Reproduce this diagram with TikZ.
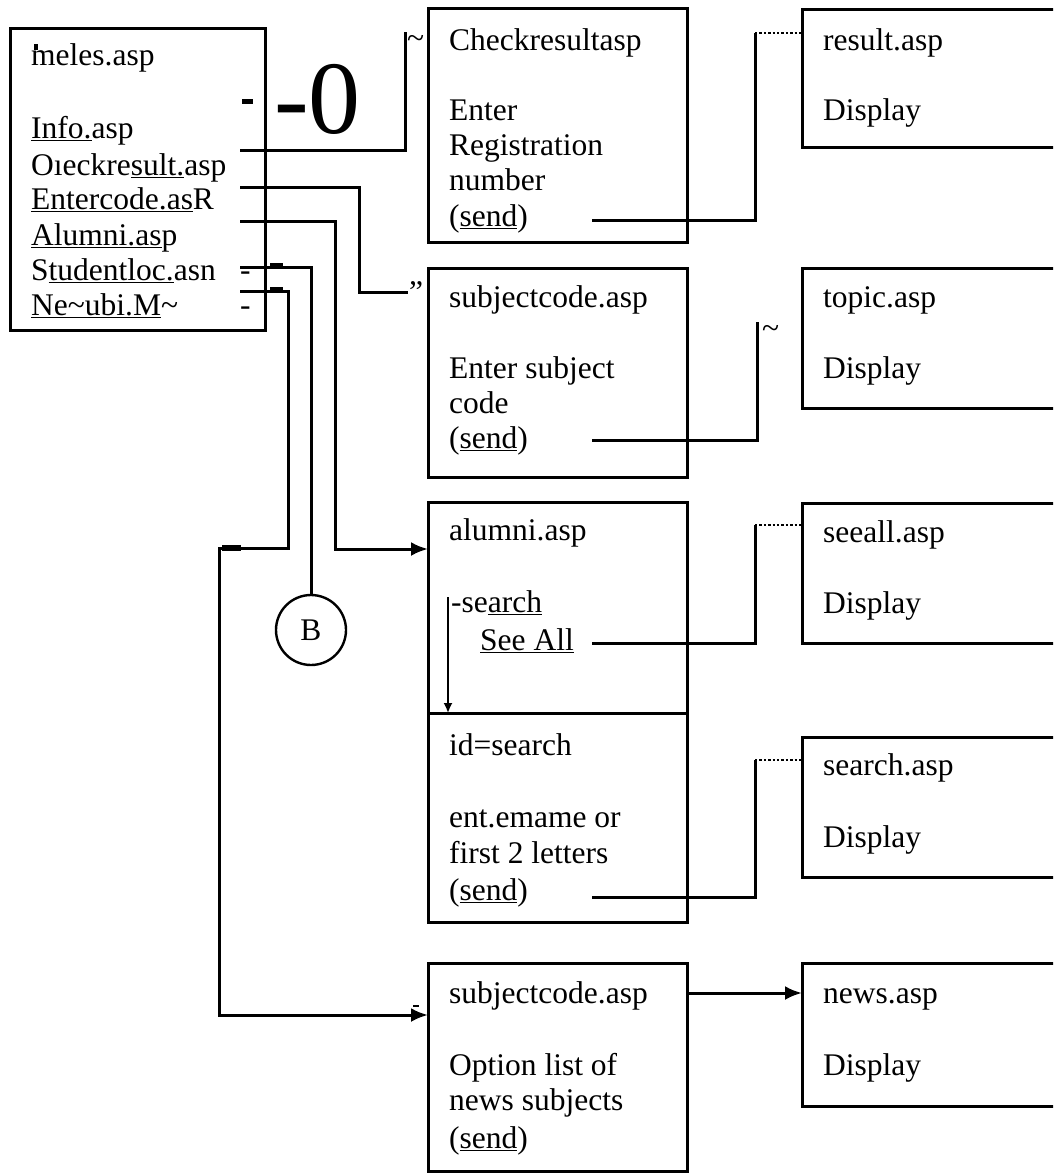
\documentclass[tikz,border=0pt]{standalone}
\usepackage{fontspec}
\setmainfont{Liberation Serif}
\usetikzlibrary{arrows.meta}
\begin{document}
\begin{tikzpicture}[x=1pt,y=-1pt,
  box/.style={draw, line width=3pt, rectangle, inner sep=0pt, outer sep=0pt, anchor=north west},
  txt/.style={anchor=base west, inner sep=0pt, font=\fontsize{31.5}{36}\selectfont},
  wire/.style={line width=3pt},
  dots/.style={line width=2.4pt, dotted},
  arr/.style={wire, -{Latex[length=17pt,width=14pt]}},
]
\useasboundingbox (0,0) rectangle (1053,1173);
\clip (0,0) rectangle (1053,1173);
\fill[white] (0,0) rectangle (1053,1173);

% boxes
\node[box, minimum width=255pt, minimum height=302pt] (menu) at (10,28) {};
\node[box, minimum width=259pt, minimum height=234pt] (chk) at (428,8) {};
\node[box, minimum width=300pt, minimum height=138pt] (res) at (802,9) {};
\node[box, minimum width=259pt, minimum height=209pt] (subj) at (428,268) {};
\node[box, minimum width=300pt, minimum height=140pt] (topic) at (802,268) {};
\node[box, minimum width=259pt, minimum height=420pt] (alum) at (428,502) {};
\coordinate (divL) at (428,713);
\coordinate (divR) at (687,713);
\draw[wire] (divL) -- (divR);
\node[box, minimum width=300pt, minimum height=140pt] (seeall) at (802,503) {};
\node[box, minimum width=300pt, minimum height=140pt] (search) at (802,737) {};
\node[box, minimum width=259pt, minimum height=208pt] (nsubj) at (428,963) {};
\node[box, minimum width=300pt, minimum height=143pt] (news) at (802,963) {};

% menu texts
\node[txt] (m1) at (31,65) {meles.asp};
\node[txt] (m2) at (31,138) {\underline{Info.}asp};
\node[txt] (m3) at (31,175) {Oıeckre\underline{sult.}asp};
\node[txt] (m4) at (31,209) {\underline{Entercode.as}R};
\node[txt] (m5) at (31,245) {\underline{Alumni.as}p};
\node[txt] (m6) at (31,280) {S\underline{tudentloc.}asn};
\node[txt] (m7) at (31,315) {\underline{Ne\textasciitilde ubi.M}\textasciitilde};
\node[txt] (d1) at (240,280) {-};
\node[txt] (d2) at (240,315) {-};
\node[anchor=base west, inner sep=0pt, font=\fontsize{104}{110}\selectfont] (big) at (274,133) {-0};

% checkresult
\node[txt] (c1) at (449,50) {Checkresultasp};
\node[txt] (c2) at (449,120) {Enter};
\node[txt] (c3) at (449,155) {Registration};
\node[txt] (c4) at (449,190) {number};
\node[txt] (c5) at (449,226) {(\underline{send})};
\node[txt] (r1) at (823,50) {result.asp};
\node[txt] (r2) at (823,120) {Display};

% subjectcode
\node[txt] (s1) at (449,307) {subjectcode.asp};
\node[txt] (s2) at (449,378) {Enter subject};
\node[txt] (s3) at (449,413) {code};
\node[txt] (s4) at (449,448) {(\underline{send})};
\node[txt] (t1) at (823,307) {topic.asp};
\node[txt] (t2) at (823,378) {Display};

% alumni
\node[txt] (a1) at (449,540) {alumni.asp};
\node[txt] (a2) at (451,612) {-se\underline{arch}};
\node[txt] (a3) at (480,650) {\underline{See All}};
\node[txt] (a4) at (449,755) {id=search};
\node[txt] (a5) at (449,827) {ent.emame or};
\node[txt] (a6) at (449,863) {first 2 letters};
\node[txt] (a7) at (449,900) {(\underline{send})};
\node[txt] (e1) at (823,542) {seeall.asp};
\node[txt] (e2) at (823,613) {Display};
\node[txt] (h1) at (823,775) {search.asp};
\node[txt] (h2) at (823,847) {Display};

% news
\node[txt] (n1) at (449,1003) {subjectcode.asp};
\node[txt] (n2) at (449,1075) {Option list of};
\node[txt] (n3) at (449,1110) {news subjects};
\node[txt] (n4) at (449,1148) {(\underline{send})};
\node[txt] (w1) at (823,1003) {news.asp};
\node[txt] (w2) at (823,1075) {Display};

% circle B
\node[circle, draw, line width=2.4pt, minimum size=70pt, inner sep=0pt, font=\fontsize{31.5}{36}\selectfont] (B) at (311,630) {B};

% connectors from menu
\coordinate (infoS) at (240,150);
\coordinate (infoT) at (405,32);
\draw[wire] (infoS) -| (infoT);
\node[txt] (tl1) at (407,48) {\textasciitilde};

\coordinate (ockS) at (240,187);
\coordinate (ockM) at (359,292);
\coordinate (ockT) at (408,292);
\draw[wire] (ockS) -| (ockM) -- (ockT);
\node[txt] (q1) at (409,302) {\textquotedblright};

\coordinate (entS) at (240,221);
\coordinate (entM) at (335,549);
\draw[arr] (entS) -| (entM) -- (alum.west |- entM);

\coordinate (stuS) at (240,267);
\draw[wire] (stuS) -| (B.north);

\coordinate (neS) at (240,291);
\coordinate (neA) at (288,548);
\coordinate (neB) at (219,1015);
\draw[arr] (neS) -| (neA) -| (neB) -- (nsubj.west |- neB);

% connectors between pages
\coordinate (chkS) at (592,220);
\coordinate (chkT) at (755,33);
\draw[wire] (chkS) -| (chkT);
\draw[dots] (chkT) -- (res.west |- chkT);

\coordinate (subS) at (592,440);
\coordinate (subT) at (757,322);
\draw[wire] (subS) -| (subT);
\node[txt] (tl2) at (762,338) {\textasciitilde};

\coordinate (seeS) at (592,643);
\coordinate (seeT) at (755,525);
\draw[wire] (seeS) -| (seeT);
\draw[dots] (seeT) -- (seeall.west |- seeT);

\coordinate (alS) at (592,897);
\coordinate (alT) at (755,760);
\draw[wire] (alS) -| (alT);
\draw[dots] (alT) -- (search.west |- alT);

\coordinate (nwS) at (687,993);
\draw[arr] (nwS) -- (news.west |- nwS);

\coordinate (srS) at (448,597);
\draw[line width=1.8pt, -{Latex[length=10pt,width=9pt]}] (srS) -- (srS |- divL);

% scan artefacts
\fill (242,99) rectangle (253,104);
\fill (270,263) rectangle (283,269);
\fill (270,287) rectangle (283,293);
\fill (222,545) rectangle (241,551);
\fill (34,44) rectangle (38,50);
\fill (413,1005) rectangle (419,1007);
\end{tikzpicture}
\end{document}
